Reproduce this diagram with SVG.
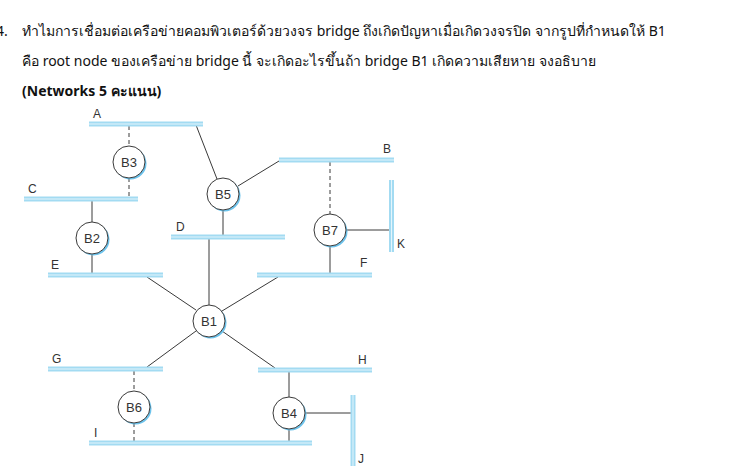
<svg xmlns="http://www.w3.org/2000/svg" width="738" height="474" viewBox="0 0 738 474">
<style>
.q{font-family:"Noto Sans","DejaVu Sans",Tahoma,sans-serif;font-size:14px;fill:#111}
.qb{font-weight:bold}
.lbl{font-family:"Liberation Sans",Arial,sans-serif;font-size:12px;fill:#333}
.nl{font-family:"Liberation Sans",Arial,sans-serif;font-size:13px;fill:#333;text-anchor:middle}
.bar{stroke:#a3dbf2;stroke-width:5}
.barc{stroke:#e4f5fc;stroke-width:1}
.ln{stroke:#3a3a3a;stroke-width:1;fill:none}
.ds{stroke:#3a3a3a;stroke-width:1;stroke-dasharray:4,3;fill:none}
.sh{fill:#6cc3ec}
.nd{fill:#fff;stroke:#3a3a3a;stroke-width:1}
</style>
<defs>
<g id="node"><circle class="sh" cx="1.5" cy="1.5" r="16"/><circle class="nd" r="16"/></g>
</defs>
<rect width="738" height="474" fill="#fff"/>
<g id="question">
<text class="q" x="-4" y="36">4.</text>
<text class="q" x="22" y="36">ทำไมการเชื่อมต่อเครือข่ายคอมพิวเตอร์ด้วยวงจร bridge ถึงเกิดปัญหาเมื่อเกิดวงจรปิด จากรูปที่กำหนดให้ B1</text>
<text class="q" x="22" y="66">คือ root node ของเครือข่าย bridge นี้ จะเกิดอะไรขึ้นถ้า bridge B1 เกิดความเสียหาย จงอธิบาย</text>
<text class="q qb" x="22" y="96">(Networks 5 คะแนน)</text>
</g>
<g id="connectors">
<line class="ds" x1="129" y1="126" x2="129" y2="146"/>
<line class="ds" x1="129" y1="178" x2="129" y2="197"/>
<line class="ln" x1="92" y1="201" x2="92" y2="222"/>
<line class="ln" x1="92" y1="254" x2="92" y2="273"/>
<line class="ln" x1="196" y1="125" x2="217" y2="179"/>
<line class="ln" x1="238" y1="186" x2="279" y2="161"/>
<line class="ln" x1="223" y1="210" x2="223" y2="235"/>
<line class="ds" x1="330" y1="162" x2="330" y2="214"/>
<line class="ln" x1="346" y1="230" x2="390" y2="230"/>
<line class="ln" x1="330" y1="246" x2="330" y2="273"/>
<line class="ln" x1="209" y1="239" x2="209" y2="305"/>
<line class="ln" x1="147" y1="277" x2="196" y2="310"/>
<line class="ln" x1="278" y1="277" x2="222" y2="311"/>
<line class="ln" x1="196" y1="331" x2="147" y2="367"/>
<line class="ln" x1="222" y1="331" x2="275" y2="368"/>
<line class="ds" x1="134" y1="371" x2="134" y2="391"/>
<line class="ds" x1="134" y1="423" x2="134" y2="441"/>
<line class="ln" x1="289" y1="372" x2="289" y2="397"/>
<line class="ln" x1="289" y1="429" x2="289" y2="441"/>
<line class="ln" x1="305" y1="413" x2="351" y2="413"/>
</g>
<g id="A"><line class="bar" x1="89" y1="124" x2="203" y2="124"/><line class="barc" x1="89" y1="124" x2="203" y2="124"/><text class="lbl" x="93" y="118">A</text></g>
<g id="B"><line class="bar" x1="279" y1="160" x2="394" y2="160"/><line class="barc" x1="279" y1="160" x2="394" y2="160"/><text class="lbl" x="383" y="153">B</text></g>
<g id="C"><line class="bar" x1="24" y1="199" x2="138" y2="199"/><line class="barc" x1="24" y1="199" x2="138" y2="199"/><text class="lbl" x="28" y="193">C</text></g>
<g id="D"><line class="bar" x1="171" y1="237" x2="285" y2="237"/><line class="barc" x1="171" y1="237" x2="285" y2="237"/><text class="lbl" x="176" y="231">D</text></g>
<g id="E"><line class="bar" x1="48" y1="275" x2="163" y2="275"/><line class="barc" x1="48" y1="275" x2="163" y2="275"/><text class="lbl" x="51" y="269">E</text></g>
<g id="F"><line class="bar" x1="257" y1="275" x2="372" y2="275"/><line class="barc" x1="257" y1="275" x2="372" y2="275"/><text class="lbl" x="360" y="267">F</text></g>
<g id="K"><line class="bar" x1="391.5" y1="180" x2="391.5" y2="252"/><line class="barc" x1="391.5" y1="180" x2="391.5" y2="252"/><text class="lbl" x="397" y="248">K</text></g>
<g id="G"><line class="bar" x1="48" y1="369" x2="163" y2="369"/><line class="barc" x1="48" y1="369" x2="163" y2="369"/><text class="lbl" x="52" y="363">G</text></g>
<g id="H"><line class="bar" x1="258" y1="370" x2="372" y2="370"/><line class="barc" x1="258" y1="370" x2="372" y2="370"/><text class="lbl" x="358" y="364">H</text></g>
<g id="I"><line class="bar" x1="89" y1="443" x2="312" y2="443"/><line class="barc" x1="89" y1="443" x2="312" y2="443"/><text class="lbl" x="94" y="437">I</text></g>
<g id="J"><line class="bar" x1="353" y1="395" x2="353" y2="466"/><line class="barc" x1="353" y1="395" x2="353" y2="466"/><text class="lbl" x="358" y="463">J</text></g>
<g id="B3"><use href="#node" x="129" y="162"/><text class="nl" x="129" y="167">B3</text></g>
<g id="B2"><use href="#node" x="92" y="238"/><text class="nl" x="92" y="243">B2</text></g>
<g id="B5"><use href="#node" x="223" y="194"/><text class="nl" x="223" y="199">B5</text></g>
<g id="B7"><use href="#node" x="330" y="230"/><text class="nl" x="330" y="235">B7</text></g>
<g id="B1"><use href="#node" x="209" y="321"/><text class="nl" x="209" y="326">B1</text></g>
<g id="B6"><use href="#node" x="134" y="407"/><text class="nl" x="134" y="412">B6</text></g>
<g id="B4"><use href="#node" x="289" y="413"/><text class="nl" x="289" y="418">B4</text></g>
</svg>
